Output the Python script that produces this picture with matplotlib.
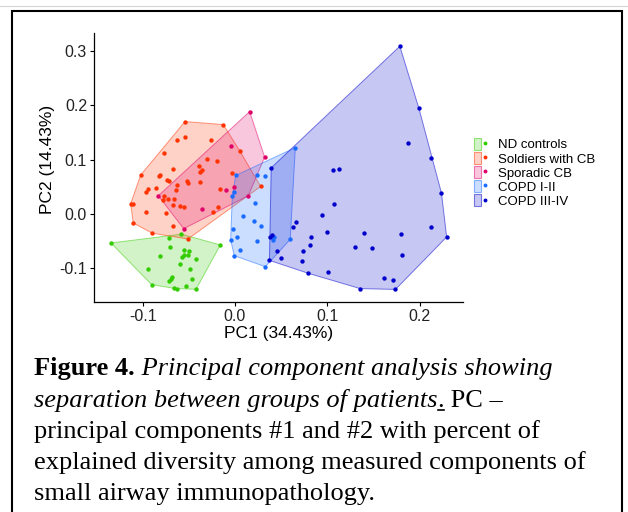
import numpy as np
import matplotlib
matplotlib.use("Agg")
import matplotlib.pyplot as plt
from matplotlib.patches import Patch, Rectangle
from matplotlib.lines import Line2D
from matplotlib.legend_handler import HandlerTuple
from matplotlib.colors import to_rgba

plt.rcParams['font.family'] = ['Liberation Sans', 'DejaVu Sans']

#---------grupos y colores----------------
grupos = ["ND controls", "Soldiers with CB", "Sporadic CB", "COPD I-II", "COPD III-IV"]
colores = ["#33CC00", "#FF3300", "#E0006A", "#1A6BFF", "#0000CC"]

#---------puntajes PCA (PC1, PC2) por grupo----------------
nd_x = [-0.1342, -0.0718, -0.0579, -0.0159, -0.0700, -0.0555, -0.0495, -0.0512,
        -0.0549, -0.0577, -0.0422, -0.0812, -0.0592, -0.0942, -0.0487, -0.0679,
        -0.0696, -0.0711, -0.0462, -0.0902, -0.0530, -0.0660, -0.0631, -0.0422]
nd_y = [-0.0533, -0.0436, -0.0371, -0.0570, -0.0607, -0.0656, -0.0680, -0.0748,
        -0.0761, -0.0790, -0.0822, -0.0779, -0.0914, -0.1011, -0.1011, -0.1165,
        -0.1195, -0.1239, -0.1195, -0.1300, -0.1318, -0.1368, -0.1373, -0.1386]

sol_x = [-0.0541, -0.0127, -0.0544, -0.0631, -0.0260, -0.0772, 0.0051, -0.0300,
         -0.0192, -0.0390, -0.0671, -0.0357, -0.0376, -0.0029, -0.1021, -0.0808,
         -0.0823, -0.0739, -0.0714, -0.0523, -0.0505, -0.0382, -0.0631, -0.0858,
         -0.0945, -0.0966, -0.0639, -0.0159, 0.0278, -0.0765, -0.0728, -0.0663,
         -0.0782, -0.1129, -0.1107, -0.0671, -0.0592, -0.0552, -0.0187, -0.0966,
         -0.0750, -0.0235, -0.1101, -0.0671, -0.0895, -0.0509]
sol_y = [0.1702, 0.1647, 0.1426, 0.1360, 0.1360, 0.1127, 0.1164, 0.1017,
         0.0974, 0.0888, 0.0838, 0.0814, 0.0772, 0.0746, 0.0717, 0.0717,
         0.0691, 0.0618, 0.0607, 0.0599, 0.0570, 0.0588, 0.0526, 0.0471,
         0.0460, 0.0410, 0.0447, 0.0465, 0.0507, 0.0324, 0.0281, 0.0281,
         0.0250, 0.0189, 0.0189, 0.0171, 0.0153, 0.0134, 0.0129, 0.0029,
         0.0018, 0.0037, -0.0165, -0.0215, -0.0353, -0.0460]

spo_x = [0.0159, -0.0043, 0.0321, -0.0830, -0.0555, -0.0360, -0.0097, -0.0008, 0.0144]
spo_y = [0.1886, 0.1250, 0.1048, 0.0336, -0.0270, 0.0085, 0.0447, 0.0496, 0.0336]

c12_x = [0.0653, 0.0008, 0.0241, 0.0328, -0.0008, -0.0029, 0.0216, 0.0083, 0.0209,
         0.0278, -0.0022, 0.0022, -0.0047, 0.0238, 0.0054, -0.0008, 0.0328, 0.0598,
         0.0425, 0.0411]
c12_y = [0.1222, 0.0710, 0.0717, 0.0691, 0.0397, 0.0324, 0.0208, -0.0037, -0.0129,
         -0.0221, -0.0276, -0.0430, -0.0472, -0.0496, -0.0662, -0.0767, -0.0969, -0.0467,
         -0.0423, -0.0482]

c34_x = [0.1784, 0.1991, 0.1876, 0.2127, 0.2235, 0.1063, 0.1126, 0.1068, 0.0392,
         0.0660, 0.0624, 0.0942, 0.0996, 0.0819, 0.0815, 0.0739, 0.0725, 0.0498,
         0.0458, 0.0373, 0.0795, 0.1009, 0.1356, 0.1737, 0.1616, 0.1710, 0.1804,
         0.1486, 0.1295, 0.1398, 0.1800, 0.2121, 0.2291, 0.0379, 0.0404]
c34_y = [0.3088, 0.1945, 0.1307, 0.1035, 0.0386, 0.0809, 0.0820, 0.0184, 0.0851,
         -0.0145, -0.0246, -0.0022, -0.0325, -0.0430, -0.0577, -0.0678, -0.0864, -0.0809,
         -0.0689, -0.0853, -0.1092, -0.1074, -0.1373, -0.1388, -0.1176, -0.1221, -0.0761,
         -0.0632, -0.0601, -0.0357, -0.0375, -0.0248, -0.0423, -0.0430, -0.0393]

xs = [nd_x, sol_x, spo_x, c12_x, c34_x]
ys = [nd_y, sol_y, spo_y, c12_y, c34_y]

x_ticks = [-0.1, 0.0, 0.1, 0.2]
y_ticks = [-0.1, 0.0, 0.1, 0.2, 0.3]


def casco(x, y):
    # envolvente convexa (monotone chain)
    pts = sorted(set(zip(x, y)))

    def cruz(o, a, b):
        return (a[0] - o[0]) * (b[1] - o[1]) - (a[1] - o[1]) * (b[0] - o[0])

    abajo = []
    for p in pts:
        while len(abajo) >= 2 and cruz(abajo[-2], abajo[-1], p) <= 0:
            abajo.pop()
        abajo.append(p)
    arriba = []
    for p in reversed(pts):
        while len(arriba) >= 2 and cruz(arriba[-2], arriba[-1], p) <= 0:
            arriba.pop()
        arriba.append(p)
    h = abajo[:-1] + arriba[:-1]
    return [p[0] for p in h], [p[1] for p in h]


fig = plt.figure(figsize=(6.28, 5.12), dpi=100)
ax = fig.add_axes([94 / 628, 1 - 302.3 / 512, (463 - 94) / 628, (302.3 - 33.4) / 512])

#---------poligonos y puntos----------------
for x, y, c in zip(xs, ys, colores):
    hx, hy = casco(x, y)
    ax.fill(hx, hy, facecolor=to_rgba(c, 0.22), edgecolor=to_rgba(c, 0.5), lw=0.7)
for x, y, c in zip(xs, ys, colores):
    ax.scatter(x, y, s=10, color=c, linewidths=0, zorder=3)

ax.set_xlim(-0.1526, 0.2468)
ax.set_ylim(-0.1625, 0.3325)
ax.set_xticks(x_ticks)
ax.set_yticks(y_ticks)
ax.set_xticklabels(["%.1f" % v for v in x_ticks])
ax.set_yticklabels(["%.1f" % v for v in y_ticks])
ax.spines['top'].set_visible(False)
ax.spines['right'].set_visible(False)
ax.spines['left'].set_linewidth(0.9)
ax.spines['bottom'].set_linewidth(0.9)
ax.tick_params(length=3, width=0.8, labelsize=11.5, labelcolor='#222222', pad=2)
ax.set_xlabel("PC1 (34.43%)", fontsize=12.5, labelpad=1)
ax.set_ylabel("PC2 (14.43%)", fontsize=12.5, labelpad=4)
ax.yaxis.set_label_coords(-0.105, 0.53)

#---------leyenda----------------
handles = []
for c in colores:
    caja = Patch(facecolor=to_rgba(c, 0.22), edgecolor=to_rgba(c, 0.5), lw=0.8)
    punto = Line2D([], [], marker='o', ls='', color=c, ms=2.8, mew=0)
    handles.append((caja, punto))
ax.legend(handles, grupos, handler_map={tuple: HandlerTuple(ndivide=None)},
          loc='upper left', bbox_to_anchor=(474 / 628, 1 - 138 / 512),
          bbox_transform=fig.transFigure, frameon=False, fontsize=9.5,
          handlelength=1.1, handleheight=1.0, handletextpad=0.7,
          labelspacing=0.05, borderpad=0, borderaxespad=0)

#---------marco----------------
fig.add_artist(Line2D([0, 1], [1 - 6 / 512, 1 - 6 / 512], lw=0.8, color='#d4d4d4',
                      transform=fig.transFigure))
fig.add_artist(Rectangle((12 / 628, -0.05), 610 / 628, 1.05 - 10.5 / 512,
                         transform=fig.transFigure, fill=False, lw=1.5, ec='black'))

#---------pie de figura----------------
cap_fs = 19
serif = ['Liberation Serif', 'DejaVu Serif']
x0 = 34 / 628
lineas = [
    [("Figure 4.", 'normal', 'bold'), (" Principal component analysis showing", 'italic', 'normal')],
    [("separation between groups of patients", 'italic', 'normal'), (".", 'normal', 'normal'),
     (" PC \u2013", 'normal', 'normal')],
    [("principal components #1 and #2 with percent of", 'normal', 'normal')],
    [("explained diversity among measured components of", 'normal', 'normal')],
    [("small airway immunopathology.", 'normal', 'normal')],
]
bases = [375, 407, 438, 469, 500]
punto_sub = None
for partes, b in zip(lineas, bases):
    yb = 1 - b / 512
    t = None
    for txt, est, peso in partes:
        if t is None:
            t = fig.text(x0, yb, txt, fontsize=cap_fs, family=serif, style=est,
                         weight=peso, va='baseline', ha='left')
        else:
            t = ax.annotate(txt, xy=(1, yb), xycoords=(t, 'figure fraction'),
                            fontsize=cap_fs, family=serif, style=est, weight=peso,
                            va='baseline', ha='left', annotation_clip=False)
        if txt == ".":
            punto_sub = (t, yb)

fig.canvas.draw()
if punto_sub is not None:
    bb = punto_sub[0].get_window_extent()
    yl = punto_sub[1] - 3 / 512
    fig.add_artist(Line2D([bb.x0 / 628, bb.x1 / 628], [yl, yl], lw=1.2, color='black',
                          transform=fig.transFigure))

fig.savefig("out.png", dpi=100)
